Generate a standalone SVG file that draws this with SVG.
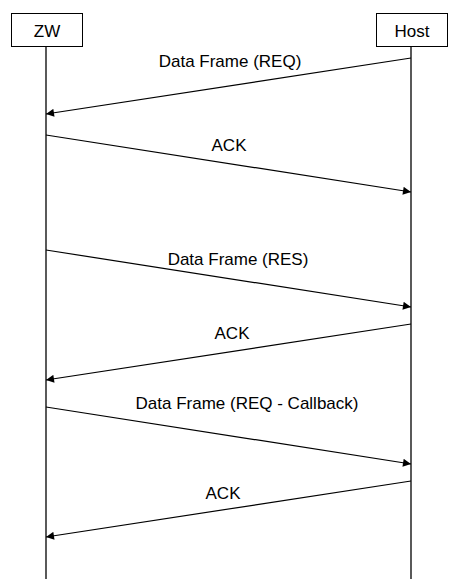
<svg xmlns="http://www.w3.org/2000/svg" width="461" height="587" viewBox="0 0 461 587">
<style>
.box{fill:#fff;stroke:#000;stroke-width:1}
.life{stroke:#000;stroke-width:1.3}
.msg{stroke:#000;stroke-width:1.2;fill:none;marker-end:url(#ah)}
text{font-family:"Liberation Sans",Arial,sans-serif;font-size:17px;fill:#000;text-anchor:middle}
</style>
<defs>
<marker id="ah" viewBox="0 0 10 10" refX="10" refY="5" markerWidth="10" markerHeight="8" markerUnits="userSpaceOnUse" orient="auto">
<path d="M0,0 L10,5 L0,10 z" fill="#000"/>
</marker>
</defs>
<rect width="461" height="587" fill="#fff"/>
<g id="ZW">
<line class="life" x1="46" y1="46" x2="46" y2="579"/>
<rect class="box" x="11.5" y="13.5" width="71" height="33"/>
<text x="47" y="37">ZW</text>
</g>
<g id="Host">
<line class="life" x1="411" y1="46" x2="411" y2="579"/>
<rect class="box" x="376.5" y="13.5" width="71" height="33"/>
<text x="412" y="37">Host</text>
</g>
<g id="connectors">
<line class="msg" x1="411" y1="58" x2="46" y2="114"/>
<text x="230" y="67">Data Frame (REQ)</text>
<line class="msg" x1="46" y1="135" x2="411" y2="192"/>
<text x="229" y="151">ACK</text>
<line class="msg" x1="46" y1="250" x2="411" y2="307"/>
<text x="238" y="265">Data Frame (RES)</text>
<line class="msg" x1="411" y1="324" x2="46" y2="380"/>
<text x="232" y="339">ACK</text>
<line class="msg" x1="46" y1="407" x2="411" y2="464"/>
<text x="247" y="409">Data Frame (REQ - Callback)</text>
<line class="msg" x1="411" y1="481" x2="46" y2="537"/>
<text x="223" y="499">ACK</text>
</g>
</svg>
